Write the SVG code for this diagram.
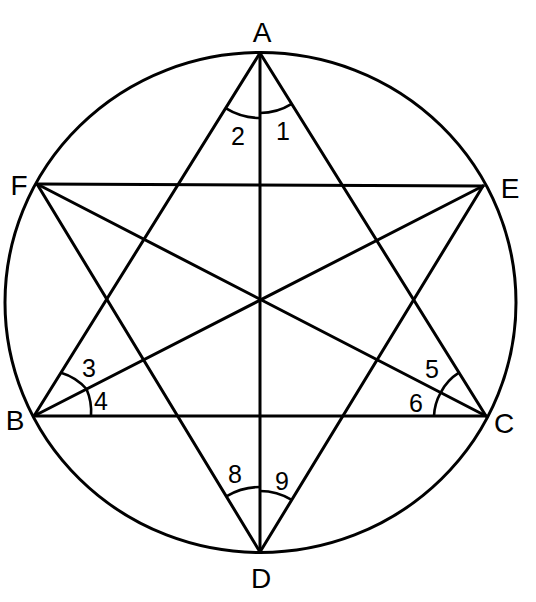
<svg xmlns="http://www.w3.org/2000/svg" width="536" height="602" viewBox="0 0 536 602">
<style>
.ln{stroke:#000;stroke-width:3;fill:none;stroke-linecap:round}
.arc{stroke:#000;stroke-width:2.6;fill:none}
.lbl{font-family:"Liberation Sans",Arial,sans-serif;font-size:28px;fill:#000;text-anchor:middle}
.num{font-family:"Liberation Sans",Arial,sans-serif;font-size:25px;fill:#000;text-anchor:middle}
</style>
<rect width="536" height="602" fill="#fff"/>
<g id="circle"><ellipse cx="260.5" cy="302.5" rx="255.5" ry="250" class="ln"/></g>
<g id="connectors">
<line x1="260" y1="53" x2="260" y2="552" class="ln"/>
<line x1="37" y1="184" x2="483" y2="186" class="ln"/>
<line x1="34" y1="416" x2="486" y2="416" class="ln"/>
<line x1="260" y1="53" x2="34" y2="416" class="ln"/>
<line x1="260" y1="53" x2="486" y2="416" class="ln"/>
<line x1="260" y1="552" x2="37" y2="184" class="ln"/>
<line x1="260" y1="552" x2="483" y2="186" class="ln"/>
<line x1="37" y1="184" x2="486" y2="416" class="ln"/>
<line x1="34" y1="416" x2="483" y2="186" class="ln"/>
</g>
<g id="angles">
<path d="M225.6,108.2 A65,65 0 0 0 260,118" class="arc"/>
<path d="M260,113 A60,60 0 0 0 291.7,103.9" class="arc"/>
<path d="M61,372.7 A55,55 0 0 1 86.5,389" class="arc"/>
<path d="M86.5,389 A57,57 0 0 1 91,416" class="arc"/>
<path d="M459,372.7 A51,51 0 0 0 440.7,392.6" class="arc"/>
<path d="M440.7,392.6 A52,52 0 0 0 434,416" class="arc"/>
<path d="M226.3,496.4 A65,65 0 0 1 260,487" class="arc"/>
<path d="M260,491 A61,61 0 0 1 291.7,499.9" class="arc"/>
</g>
<g id="nodeA"><text x="262" y="42" class="lbl">A</text></g>
<g id="nodeB"><text x="15" y="430" class="lbl">B</text></g>
<g id="nodeC"><text x="504" y="433" class="lbl">C</text></g>
<g id="nodeD"><text x="261" y="588" class="lbl">D</text></g>
<g id="nodeE"><text x="510" y="198" class="lbl">E</text></g>
<g id="nodeF"><text x="19" y="195" class="lbl">F</text></g>
<g id="labels">
<text x="283" y="140" class="num">1</text>
<text x="238" y="145" class="num">2</text>
<text x="89" y="377" class="num">3</text>
<text x="101" y="410" class="num">4</text>
<text x="432" y="378" class="num">5</text>
<text x="416" y="412" class="num">6</text>
<text x="235" y="483" class="num">8</text>
<text x="282" y="490" class="num">9</text>
</g>
</svg>
